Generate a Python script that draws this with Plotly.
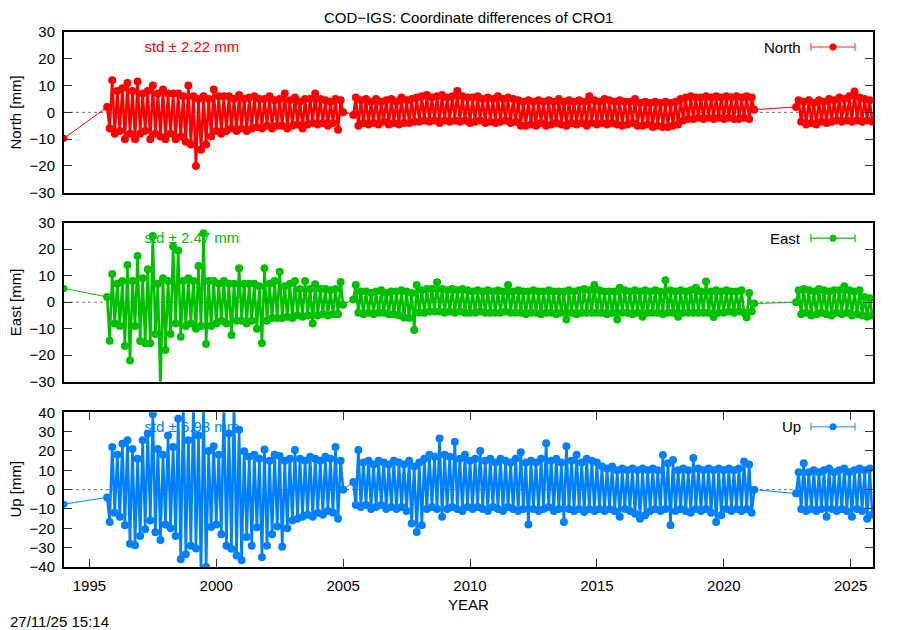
import plotly.graph_objects as go

# ---------------- data ----------------
title = "COD\u2212IGS: Coordinate differences of CRO1"
components = ["North", "East", "Up"]
std_labels = ["std \u00b1 2.22 mm", "std \u00b1 2.47 mm", "std \u00b1 6.93 mm"]
x_ticks = [1995, 2000, 2005, 2010, 2015, 2020, 2025]
y_ranges = [[-30, 30], [-30, 30], [-40, 40]]
y_ticks = [[-30, -20, -10, 0, 10, 20, 30],
           [-30, -20, -10, 0, 10, 20, 30],
           [-40, -30, -20, -10, 0, 10, 20, 30, 40]]

first_epoch = 1994.0
seg_starts = [1995.7, 2005.4, 2022.85]
epoch_step = 0.1

north_first = -9.7
north_a = [2, -6, 12, -8, 8, -7, 9, -10, 11, -8,
           8, -10, 11.5, -8, 7, -7, 8, -10, 10, -8,
           7, -9, 8.5, -10, 7, -8, 7, -10, 7, -9,
           6, -11, 10, -12, 6, -20, 5, -14, 6, -12,
           5, -9, 8.5, -7, 6, -8, 6, -7, 6, -6,
           5, -7, 6.5, -6, 5, -7, 5.5, -6, 6, -5.5,
           5, -6, 5, -5, 6, -6, 4.5, -5, 5, -5,
           7, -6, 4.5, -5, 5.5, -4.5, 4, -6, 5, -4.5,
           5, -4, 7, -4.5, 5, -4, 4.5, -5, 4, -4,
           5, -6.5, 4.5, 0]
north_b = [-1,
           5.5, -5, 4.5, -4, 5, -4.5, 4, -4, 5, -4.5,
           4, -3.5, 4.5, -4.5, 5, -4, 4, -4.5, 5.5, -4,
           4.5, -4, 5, -3.5, 5.5, -3.5, 6, -3, 6.5, -3.5,
           5.5, -3, 6, -4, 6.5, -3, 5.5, -3.5, 6, -3,
           8, -3.5, 6, -3, 5.5, -4, 5.5, -3.5, 6, -3,
           5, -4, 5.5, -3.5, 5, -4, 6, -3.5, 5, -3,
           5.5, -4, 5, -3.5, 4.5, -5, 4, -5, 4.5, -4.5,
           4, -5, 4.5, -4, 4, -5, 4.5, -4.5, 4, -4,
           5, -4.5, 4, -5, 4.5, -4, 4, -4.5, 4.5, -4,
           4, -5, 6, -4, 4.5, -4.5, 4, -4, 5, -4.5,
           4.5, -4, 4, -4.5, 4.5, -5, 4, -4.5, 4, -4,
           5, -5, 3.5, -5, 4, -4.5, 3.5, -5.5, 4, -5,
           3.5, -5.5, 4, -5.5, 3.5, -5, 4, -4.5, 5, -3,
           5.5, -2.5, 6, -2.5, 5.5, -2, 5.5, -2.5, 6, -2,
           5.5, -2.5, 6, -2, 5.5, -2.5, 6, -2, 5.5, -2.5,
           6, -2.5, 5.5, -2, 6, -2.5, 5.5, 1]
north_c = [2, 4.5, -3.5, 4, -4.5, 4.5, -4, 3.5, -4.5, 4.5, -3.5, 4, -4, 5, -3.5,
           4.5, -3, 5.5, -3.5, 5, -3, 6, -3.5, 7.8, -3, 5.5, -3.5, 5, -3, 4.5, -3.5]

east_first = 5.2
east_a = [2, -14.5, 10.6, -8, 7, -9, 8, -16.5, 14, -22,
          8, -9, 17.4, -14.6, 9, -15.5, 12.4, -15.5, 25, -12,
          7, -33, 9, -18, 8, -12, 21, -8, 19.5, -13,
          8, -9, 9, -8, 8, -10, 13.7, -9, 26, -15.8,
          8, -9, 8, -8, 7, -7, 8, -8, 7, -12.4,
          7, -7, 12.8, -7, 7, -8, 7, -7, 7, -10,
          6, -15.5, 12.8, -7, 7, -6, 8, -6, 11.5, -6,
          6, -5.5, 7, -6, 8, -5, 5, -5.5, 8, -5,
          5, -8, 6.8, -5, 5, -4.5, 5, -5, 4.5, -4.5,
          5, -4.5, 7.6, -1]
east_b = [1, 6.5, -4, 4, -4.5, 4, -4, 3.5, -4.5, 4,
          -4, 4.5, -4, 3.5, -4.5, 4, -4.5, 4, -5, 4.5,
          -5.8, 4, -6, 3.5, -10.5, 6.5, -4, 4.5, -4, 5,
          -3.5, 5, -3.5, 7.5, -3.5, 5, -4, 4.5, -3.5, 5,
          -4, 4.5, -3.5, 5, -4, 4.5, -4, 4, -4, 4.5,
          -3.5, 4, -4, 4.5, -4, 4, -4, 4.5, -4, 4,
          -3.5, 6.5, -4, 4, -4, 4.5, -4, 4, -4.5, 4,
          -4, 4.5, -4, 4, -4.5, 4, -4, 4.5, -4, 4,
          -4.5, 4, -4, 4, -6.5, 4.5, -4, 4, -4.5, 4.5,
          -4, 5, -4, 4.5, -4, 6.5, -4, 4.5, -4, 4,
          -4.5, 4, -4, 4, -6.5, 5.5, -4, 4.5, -4, 4,
          -4.5, 4.5, -4, 4, -5.5, 4.5, -4, 4, -4, 4.5,
          -4, 4, -4.5, 8.3, -4, 4.5, -4, 4, -5.5, 4.5,
          -4, 4, -4, 4.5, -4, 5.5, -4, 4, -4, 7.8,
          -4, 4, -5.6, 4.5, -4, 4, -4, 4.5, -3.5, 4,
          -4, 4, -3.5, 4.5, -4, -5.8, 3.5, -3.5, -0.5]
east_c = [0, 4.5, -4.5, 5, -4, 4.5, -5, 4, -4.5, 5, -4, 4.5, -4.5, 4, -5,
          4.5, -4, 4.5, -4.5, 6, -4, 4.5, -5, 4, -4.5, 4.5, -5, 2, -5.5, 1.5, -5]

up_first = -7.5
up_a = [-4, -16.7, 22, -12, 18, -14, 23.8, -18.4, 25.6, -28,
        21, -28.8, 16, -24, 25.6, -20.5, 29, -16, 39, -22,
        21, -26, 18, -18, 28, -20, 22, -24, 36.7, -36,
        45, -33.4, 25.6, -29, 45, -30.4, 28, -44, 45, -40,
        20, -19.3, 22.5, -18, 18, -23, 45, -29, 29, -30.5,
        45, -34, 31, -36.5, 19.8, -24.5, 17, -29, 18, -19.5,
        16, -35, 20.8, -29, 15, -23, 18, -19, 17.4, -29.5,
        15, -20, 16, -16, 20.5, -15, 16, -14, 15, -13,
        17, -14, 16, -12, 15, -13, 17, -11, 16, -12,
        22, -15, 15, 0]
up_b = [4, -8, 20.5, -9, 14, -8, 15, -10, 13, -9,
        15, -8, 14, -10, 13, -9, 15, -10, 14, -9,
        13, -11, 15, -17.5, 12, -21.9, 14, -18.4, 16, -10,
        18, -9, 17, -10, 26.5, -14, 18, -10, 17, -9,
        24.8, -10, 16, -11, 18, -9, 15, -10, 16, -9,
        20, -10, 15, -11, 16, -9, 14, -10, 16, -11,
        15, -9, 14, -10, 16, -11, 19.3, -10, 14, -18,
        15, -10, 14, -11, 16, -10, 24, -9, 15, -11,
        16, -10, 14, -16.7, 22.5, -10, 15, -11, 18, -10,
        14, -11.5, 16, -10, 15, -11, 14, -10, 12, -11,
        11, -10, 12, -11, 10, -14, 11, -10, 10, -11,
        11, -12.4, 10, -15, 11, -13.2, 10, -11, 11, -10,
        10, -11, 17.9, -10, 13.6, -18.4, 15.3, -11, 10, -10,
        11, -11, 10, -12, 16.4, -10, 11, -11, 10, -10,
        11, -12, 10, -16.7, 11, -13.2, 10, -10, 11, -11,
        10, -10, 11, -11, 14.5, -10, 13, -12, 0]
up_c = [-2, 9, -10, 13.6, -11, 9, -10, 10, -11, 9, -10, 10, -14, 11, -10, 9,
        -11, 10, -10, 11, -11, 9, -14, 10, -10, 11, -11, 10, -15, 11, -13]

series = {
    "North": [north_first, north_a, north_b, north_c],
    "East": [east_first, east_a, east_b, east_c],
    "Up": [up_first, up_a, up_b, up_c],
}
colors = {"North": "#ff0000", "East": "#00c000", "Up": "#0080ff"}
key_colors = {"North": "rgba(255,0,0,0.55)", "East": "rgba(0,192,0,0.8)", "Up": "rgba(0,128,255,0.6)"}


def segments(comp):
    first, *segs = series[comp]
    out = []
    for s0, vals in zip(seg_starts, segs):
        out.append(([round(s0 + i * epoch_step, 4) for i in range(len(vals))], list(vals)))
    return first, out


# ---------------- layout geometry (screen pixels; page body has an 8px margin) ----------------
PAGE_OFF = 8
WIN_W, WIN_H = 900, 630
L, R, T, B = 64, 873, 32, 567          # plot area on screen
def pxx(p):
    return (p - L) / (R - L)
def pxy(p):
    return (B - p) / (B - T)

panel_px = [(32.3, 192.7), (222.7, 381.7), (412.3, 566.7)]
domains = [[pxy(b), pxy(t)] for (t, b) in panel_px]
domains[2][0] = 0.0
domains[0][1] = 1.0

fig = go.Figure()
font = "Liberation Sans, Arial, Helvetica, sans-serif"
FS = 15
std_pos = [(1999.04, 23.9), (1999.04, 23.8), (1999.04, 31.9)]
legend_py = [47, 238.3, 426.7]

shapes, annotations = [], []
for k, comp in enumerate(components):
    xa = "x" if k == 0 else f"x{k+1}"
    ya = "y" if k == 0 else f"y{k+1}"
    c = colors[comp]
    # std label (drawn beneath the data)
    fig.add_trace(go.Scatter(x=[std_pos[k][0]], y=[std_pos[k][1]], mode="text",
                             text=[std_labels[k]], textposition="middle center",
                             textfont=dict(color=c, size=FS, family=font),
                             showlegend=False, hoverinfo="skip", xaxis=xa, yaxis=ya))
    first, segs = segments(comp)
    # thin connecting line between the isolated epoch and across the data gaps
    cx, cy = [first_epoch], [first]
    for i, (sx, sy) in enumerate(segs):
        cx += [sx[0], None] if i == len(segs) - 1 else [sx[0], None, sx[-1]]
        cy += [sy[0], None] if i == len(segs) - 1 else [sy[0], None, sy[-1]]
    fig.add_trace(go.Scatter(x=cx, y=cy, mode="lines", line=dict(color=c, width=1),
                             showlegend=False, hoverinfo="skip", xaxis=xa, yaxis=ya))
    fig.add_trace(go.Scatter(x=[first_epoch], y=[first], mode="markers",
                             marker=dict(color=c, size=7, line=dict(width=0)),
                             showlegend=False, xaxis=xa, yaxis=ya))
    for sx, sy in segs:
        fig.add_trace(go.Scatter(x=sx, y=sy, mode="lines+markers", name=comp,
                                 line=dict(color=c, width=2.6),
                                 marker=dict(color=c, size=8, line=dict(width=0)),
                                 showlegend=False, xaxis=xa, yaxis=ya, cliponaxis=True))
    # zero line
    shapes.append(dict(type="line", xref=f"{xa} domain", x0=0, x1=1, yref=ya, y0=0, y1=0,
                       line=dict(color="#707070", width=1, dash="dot"), layer="below"))
    # legend key
    py = legend_py[k]
    kc = key_colors[comp]
    shapes.append(dict(type="line", xref="paper", yref="paper", x0=pxx(811), x1=pxx(855),
                       y0=pxy(py), y1=pxy(py), line=dict(color=kc, width=1.5)))
    for ex in (811, 855):
        shapes.append(dict(type="line", xref="paper", yref="paper", x0=pxx(ex), x1=pxx(ex),
                           y0=pxy(py - 4), y1=pxy(py + 4), line=dict(color=kc, width=1.5)))
    shapes.append(dict(type="circle", xref="paper", yref="paper", x0=pxx(829.5), x1=pxx(836.5),
                       y0=pxy(py + 3.5), y1=pxy(py - 3.5), fillcolor=c, line=dict(width=0)))
    annotations.append(dict(text=comp, xref="paper", yref="paper", x=pxx(803), y=pxy(py),
                            xanchor="right", yanchor="middle", showarrow=False,
                            font=dict(size=FS, family=font, color="black")))
    # y title
    tmid = (panel_px[k][0] + panel_px[k][1]) / 2
    annotations.append(dict(text=f"{comp} [mm]", xref="paper", yref="paper", x=pxx(15), y=pxy(tmid),
                            xanchor="center", yanchor="middle", textangle=-90, showarrow=False,
                            font=dict(size=FS, family=font, color="black")))

annotations.append(dict(text=title, xref="paper", yref="paper", x=0.5, y=pxy(PAGE_OFF),
                        xanchor="center", yanchor="top", showarrow=False, borderpad=0,
                        font=dict(size=FS, family=font, color="black")))
annotations.append(dict(text="YEAR", xref="paper", yref="paper", x=0.5, y=pxy(604),
                        xanchor="center", yanchor="middle", showarrow=False,
                        font=dict(size=FS, family=font, color="black")))
annotations.append(dict(text="27/11/25 15:14", xref="paper", yref="paper", x=pxx(8), y=pxy(621),
                        xanchor="left", yanchor="middle", showarrow=False,
                        font=dict(size=FS, family=font, color="black")))

layout = dict(width=WIN_W - PAGE_OFF, height=WIN_H - PAGE_OFF,
              margin=dict(l=L - PAGE_OFF, r=WIN_W - R, t=T - PAGE_OFF, b=WIN_H - B, pad=0),
              plot_bgcolor="white", paper_bgcolor="white", showlegend=False,
              shapes=shapes, annotations=annotations,
              font=dict(family=font, size=FS, color="black"))
for k in range(3):
    xkey = "xaxis" if k == 0 else f"xaxis{k+1}"
    ykey = "yaxis" if k == 0 else f"yaxis{k+1}"
    xa = "x" if k == 0 else f"x{k+1}"
    ya = "y" if k == 0 else f"y{k+1}"
    bottom = (k == 2)
    layout[xkey] = dict(domain=[0, 1], anchor=ya, range=[1994.0, 2025.88],
                        tickvals=x_ticks, showticklabels=bottom,
                        ticks="inside" if bottom else "", ticklen=8, tickcolor="#333333",
                        showline=True, linecolor="black", linewidth=2,
                        mirror="ticks" if bottom else True,
                        showgrid=False, zeroline=False, ticklabelstandoff=4,
                        tickfont=dict(size=FS, family=font, color="black"))
    if k < 2:
        layout[xkey]["matches"] = "x3"
    layout[ykey] = dict(domain=domains[k], anchor=xa, range=y_ranges[k],
                        tickvals=y_ticks[k], ticks="inside", ticklen=8, tickcolor="#333333",
                        showline=True, linecolor="black", linewidth=2, mirror="ticks",
                        showgrid=False, zeroline=False, ticklabelstandoff=4,
                        tickfont=dict(size=FS, family=font, color="black"))

fig.update_layout(**layout)
fig.write_html("out.html")
